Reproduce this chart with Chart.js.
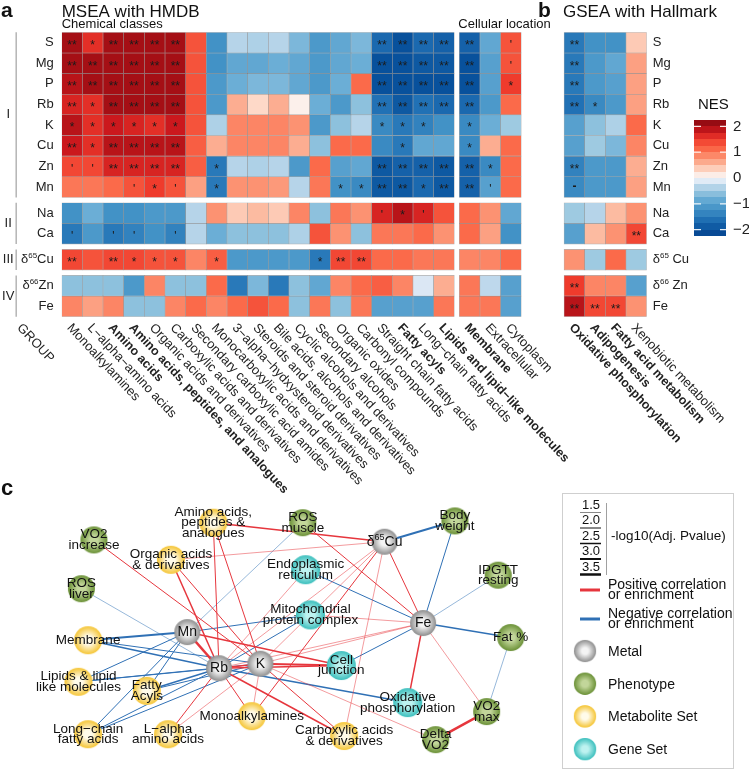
<!DOCTYPE html>
<html>
<head>
<meta charset="utf-8">
<script src="https://cdn.jsdelivr.net/npm/chart.js@4.4.1/dist/chart.umd.min.js"></script>
<style>
  html, body { margin: 0; padding: 0; background: #fff; }
  #fig { position: relative; width: 749px; height: 769px; overflow: hidden; }
  canvas { position: absolute; }
</style>
</head>
<body>
<div id="fig">
  <canvas id="heat" width="749" height="500" style="left:0;top:0"></canvas>
  <canvas id="nesBar" width="55" height="148" style="left:694px;top:104px"></canvas>
  <canvas id="net" width="749" height="291" style="left:0;top:478px"></canvas>
</div>
<script>
const FONT = '"Liberation Sans", Arial, Helvetica, sans-serif';

// ---------- panel a / b : heatmap data ----------
const rowLabels = ['S', 'Mg', 'P', 'Rb', 'K', 'Cu', 'Zn', 'Mn', 'Na', 'Ca', 'δ65Cu', 'δ66Zn', 'Fe'];
const rowGroups = ['I', 'I', 'I', 'I', 'I', 'I', 'I', 'I', 'II', 'II', 'III', 'IV', 'IV'];

const hmdbCols = ['Monoalkylamines', 'L−alpha−amino acids', 'Amino acids', 'Amino acids, peptides, and analogues',
  'Organic acids and derivatives', 'Carboxylic acids and derivatives', 'Secondary carboxylic acid amides',
  'Monocarboxylic acids and derivatives', '3−alpha−hydxysteroid derivatives', 'Steroids and steroid derivatives',
  'Bile acids, alcohols and derivatives', 'Cyclic alcohols and derivatives', 'Secondary alcohols', 'Organic oxides',
  'Carbonyl compounds', 'Straight chain fatty acids', 'Fatty acyls', 'Long−chain fatty acids', 'Lipids and lipid−like molecules'];
const locationCols = ['Membrane', 'Extracellular', 'Cytoplasm'];
const hallmarkCols = ['Oxidative phosphorylation', 'Adipogenesis', 'Fatty acid metabolism', 'Xenobiotic metabolism'];
const boldCols = ['Amino acids', 'Amino acids, peptides, and analogues', 'Fatty acyls', 'Lipids and lipid−like molecules',
  'Membrane', 'Oxidative phosphorylation', 'Adipogenesis', 'Fatty acid metabolism'];

const hmdbNES = [
  [2.0, 1.6, 2.0, 2.0, 2.0, 2.0, 1.3, -1.2, -0.35, -0.4, -0.35, -0.7, -1.1, -0.9, -0.7, -1.7, -2.0, -1.7, -1.8],
  [2.0, 2.0, 2.0, 2.0, 2.0, 2.0, 1.3, -1.2, -0.9, -0.9, -0.8, -0.9, -1.1, -0.9, -0.8, -2.0, -2.0, -1.9, -1.9],
  [1.9, 2.0, 2.0, 2.0, 2.0, 2.0, 1.3, -1.1, -0.8, -0.7, -0.7, -0.9, -1.1, -0.8, 1.1, -2.0, -2.0, -2.0, -2.0],
  [1.7, 1.6, 2.0, 2.0, 2.0, 2.0, 1.3, -1.1, 0.6, 0.3, 0.6, 0.1, -0.8, -1.1, -0.6, -1.6, -1.9, -1.6, -1.7],
  [1.9, 1.6, 1.8, 1.7, 1.6, 1.8, 1.3, -0.4, 0.9, 0.9, 0.9, 0.8, -1.1, -0.6, -0.35, -1.3, -1.5, -1.4, -1.2],
  [1.8, 1.6, 1.9, 1.9, 1.9, 1.9, 1.2, 0.6, 0.9, 0.9, 0.9, 0.6, -0.6, 1.1, 1.1, -1.3, -1.5, -0.9, -0.9],
  [1.4, 1.4, 1.7, 1.7, 1.7, 1.7, 1.2, -1.5, -0.35, -0.4, -0.35, -1.1, 1.1, -1.0, -0.9, -1.9, -1.8, -1.8, -1.9],
  [1.0, 1.0, 1.1, 1.3, 1.5, 1.3, 0.7, -1.5, 0.8, 0.8, 0.75, -0.35, 1.0, -1.2, -1.3, -1.9, -1.9, -1.7, -1.9],
  [-1.2, -0.8, -1.2, -1.2, -1.1, -1.1, -0.35, 0.8, 0.4, 0.5, 0.4, 0.9, -0.6, 1.0, 0.8, 1.7, 1.9, 1.7, 1.3],
  [-1.5, -1.1, -1.5, -1.4, -1.2, -1.4, -0.35, -0.8, -0.6, -0.6, -0.6, -0.4, 1.3, 0.8, -0.6, 1.0, 1.0, 1.1, 0.8],
  [1.4, 1.3, 1.4, 1.4, 1.3, 1.3, 0.9, 1.2, -1.1, -1.1, -1.1, -1.1, -1.5, 1.4, 1.4, 1.1, 1.1, 1.0, 1.0],
  [-0.6, -0.6, -0.6, -1.1, 0.9, -0.6, -0.6, 1.1, -1.5, -0.7, -1.5, -0.6, -0.9, 0.9, 1.1, 1.2, 0.9, -0.15, 0.6],
  [0.9, 0.7, 0.9, -0.6, -0.6, 0.9, 1.1, 0.9, 1.1, 1.3, 1.1, -0.6, 1.0, -0.6, 1.0, -1.0, -1.0, -1.0, 1.0]
];
const locationNES = [
  [-1.8, -0.9, 1.3], [-2.0, -1.0, 1.3], [-2.0, -1.0, 1.5], [-1.7, -1.1, 1.1], [-1.3, -0.8, -0.5],
  [-1.3, 0.6, 1.1], [-1.8, -1.3, 1.1], [-1.8, -1.0, 1.1], [1.1, 0.8, -0.9], [1.1, 0.7, -1.2],
  [0.9, 0.9, 1.1], [1.0, -0.3, -1.0], [1.0, 1.0, -1.0]
];
const hallmarkNES = [
  [-1.5, -1.2, -1.2, 0.4], [-1.5, -1.1, -0.9, 0.7], [-1.5, -1.1, -1.0, 0.7], [-1.6, -1.3, -1.1, 0.7],
  [-1.0, -0.6, -0.4, 1.1], [-1.0, -0.5, -0.7, 0.9], [-1.4, -1.1, -1.1, 0.6], [-1.3, -1.1, -1.1, 0.7],
  [-0.5, -0.35, 0.5, 0.8], [-1.0, 0.5, 0.8, 1.4], [0.8, -0.5, 1.1, -0.5], [1.5, 0.9, 0.9, -1.0],
  [1.9, 1.4, 1.4, 0.8]
];

// significance marks, '_' = none
const hmdbSig = [
  "** * ** ** ** ** _ _ _ _ _ _ _ _ _ ** ** ** **",
  "** ** ** ** ** ** _ _ _ _ _ _ _ _ _ ** ** ** **",
  "** ** ** ** ** ** _ _ _ _ _ _ _ _ _ ** ** ** **",
  "** * ** ** ** ** _ _ _ _ _ _ _ _ _ ** ** ** **",
  "* * * * * * _ _ _ _ _ _ _ _ _ * * * _",
  "** * ** ** ** ** _ _ _ _ _ _ _ _ _ _ * _ _",
  "' ' ** ** ** ** _ * _ _ _ _ _ _ _ ** ** ** **",
  "_ _ _ ' * ' _ * _ _ _ _ _ * * ** ** * **",
  "_ _ _ _ _ _ _ _ _ _ _ _ _ _ _ ' * ' _",
  "' _ ' ' _ ' _ _ _ _ _ _ _ _ _ _ _ _ _",
  "** _ ** * * * _ * _ _ _ _ * ** ** _ _ _ _",
  "_ _ _ _ _ _ _ _ _ _ _ _ _ _ _ _ _ _ _",
  "_ _ _ _ _ _ _ _ _ _ _ _ _ _ _ _ _ _ _"
];
const locationSig = ["** _ '", "** _ '", "** _ *", "** _ _", "* _ _", "* _ _", "** * _", "** ' _",
  "_ _ _", "_ _ _", "_ _ _", "_ _ _", "_ _ _"];
const hallmarkSig = ["** _ _ _", "** _ _ _", "** _ _ _", "** * _ _", "_ _ _ _", "_ _ _ _", "** _ _ _",
  "- _ _ _", "_ _ _ _", "_ _ _ **", "_ _ _ _", "** _ _ _", "** ** ** _"];

const nesTicks = [2, 1, 0, -1, -2];

// ---------- panel c : network data ----------
// [id, label, layout x, layout y]
const metalNodes = [['Mn', 'Mn', 18.0, 15.5], ['Rb', 'Rb', 21.3, 19.5], ['K', 'K', 25.6, 19.0],
  ['Cu65', 'δ65Cu', 38.5, 5.5], ['Fe', 'Fe', 42.5, 14.5]];
const phenotypeNodes = [['VO2inc', 'VO2\nincrease', 8.3, 5.3], ['ROSm', 'ROS\nmuscle', 30.0, 3.4],
  ['ROSl', 'ROS\nliver', 7.0, 10.7], ['BW', 'Body\nweight', 45.8, 3.2], ['IPGTT', 'IPGTT\nresting', 50.3, 9.2],
  ['Fat', 'Fat %', 51.6, 16.1], ['VO2max', 'VO2\nmax', 49.1, 24.3], ['dVO2', 'Delta\nVO2', 43.8, 27.4]];
const metaboliteNodes = [['AAp', 'Amino acids,\npeptides &\nanalogues', 20.7, 3.4],
  ['Org', 'Organic acids\n& derivatives', 16.3, 7.5], ['Mem', 'Membrane', 7.7, 16.4],
  ['Lip', 'Lipids & lipid\nlike molecules', 6.7, 21.0], ['FA', 'Fatty\nAcyls', 13.8, 22.0],
  ['Mono', 'Monoalkylamines', 24.7, 24.8], ['LCFA', 'Long−chain\nfatty acids', 7.7, 26.8],
  ['LAA', 'L−alpha\namino acids', 16.0, 26.8], ['Carb', 'Carboxylic acids\n& derivatives', 34.3, 27.0]];
const geneSetNodes = [['ER', 'Endoplasmic\nreticulum', 30.3, 8.6], ['Mito', 'Mitochondrial\nprotein complex', 30.8, 13.6],
  ['CJ', 'Cell\njunction', 34.0, 19.2], ['OxPh', 'Oxidative\nphosphorylation', 40.9, 23.3]];

// [from, to, -log10(adj p)]
const positiveEdges = [
  ['AAp', 'Cu65', 2.5], ['AAp', 'Rb', 2.0], ['AAp', 'K', 2.0], ['ROSm', 'Fe', 2.0], ['VO2inc', 'K', 2.0],
  ['Org', 'Cu65', 1.5], ['Org', 'Rb', 2.5], ['Org', 'K', 2.0], ['ER', 'Rb', 1.5], ['Mito', 'Fe', 1.5],
  ['Mn', 'Rb', 3.5], ['Mn', 'CJ', 2.5], ['Rb', 'LAA', 2.0], ['Rb', 'Mono', 2.0], ['Rb', 'Carb', 2.5],
  ['Rb', 'CJ', 2.5], ['Rb', 'K', 2.5], ['Rb', 'Fe', 1.5], ['K', 'Mono', 1.5], ['K', 'Carb', 2.0],
  ['K', 'CJ', 3.0], ['K', 'Fe', 1.5], ['K', 'LAA', 1.5], ['K', 'dVO2', 1.5], ['Cu65', 'Mono', 2.0],
  ['Cu65', 'Carb', 1.5], ['Cu65', 'Fe', 2.0], ['Cu65', 'Rb', 1.5], ['Cu65', 'K', 1.5],
  ['Fe', 'OxPh', 2.5], ['Fe', 'VO2max', 1.5], ['VO2max', 'dVO2', 3.5]
];
const negativeEdges = [
  ['ROSm', 'Mn', 1.5], ['ER', 'Fe', 2.0], ['ROSl', 'Rb', 1.5], ['Mito', 'Mn', 2.0], ['Mito', 'Rb', 2.0],
  ['Mem', 'Mn', 3.0], ['Mem', 'Rb', 2.5], ['Mem', 'K', 2.0], ['Lip', 'Mn', 2.0], ['Lip', 'Rb', 2.0],
  ['Lip', 'K', 2.0], ['FA', 'Mn', 2.0], ['FA', 'Rb', 2.5], ['FA', 'K', 2.0], ['LCFA', 'Mn', 2.0],
  ['LCFA', 'Rb', 2.0], ['LCFA', 'K', 2.0], ['Rb', 'OxPh', 2.5], ['Cu65', 'BW', 3.0], ['BW', 'Fe', 2.0],
  ['IPGTT', 'Fe', 1.5], ['Fe', 'Fat', 2.5], ['Fe', 'CJ', 2.0], ['Fat', 'VO2max', 1.5]
];
const pvalTicks = [1.5, 2.0, 2.5, 3.0, 3.5];

// ---------- colours ----------
const nesStops = [
  [-2.3, [8, 64, 140]], [-2.0, [8, 81, 156]], [-1.6, [33, 113, 181]], [-1.2, [66, 146, 198]],
  [-0.8, [107, 174, 214]], [-0.5, [158, 202, 225]], [-0.25, [198, 219, 239]], [0, [250, 250, 252]],
  [0.25, [254, 224, 210]], [0.5, [252, 187, 161]], [0.8, [252, 146, 114]], [1.1, [251, 106, 74]],
  [1.5, [239, 59, 44]], [1.8, [203, 24, 29]], [2.0, [165, 15, 21]], [2.3, [130, 8, 16]]
];
function nesColor(v) {
  if (v <= nesStops[0][0]) return 'rgb(' + nesStops[0][1].join(',') + ')';
  for (let i = 1; i < nesStops.length; i++) {
    if (v <= nesStops[i][0]) {
      const [a, ca] = nesStops[i - 1], [b, cb] = nesStops[i];
      const t = (v - a) / (b - a);
      return 'rgb(' + ca.map((c, k) => Math.round(c + (cb[k] - c) * t)).join(',') + ')';
    }
  }
  return 'rgb(' + nesStops[nesStops.length - 1][1].join(',') + ')';
}

// text helper: handles δ65Cu style superscripts
function drawRich(ctx, text, x, y, size, align, weight) {
  const base = (weight || '') + ' ' + size + 'px ' + FONT;
  const m = /^δ(\d+)(\s?)(.*)$/.exec(text);
  if (!m) { ctx.font = base; ctx.textAlign = align; ctx.fillText(text, x, y); return; }
  const sup = Math.round(size * 0.62) + 'px ' + FONT;
  ctx.font = base;
  const w1 = ctx.measureText('δ').width, w3 = ctx.measureText(m[3]).width;
  ctx.font = sup;
  const w2 = ctx.measureText(m[1]).width;
  const gap = m[2] ? size * 0.28 : 0;
  const total = w1 + w2 + gap + w3;
  const sx = align === 'right' ? x - total : align === 'center' ? x - total / 2 : x;
  ctx.textAlign = 'left';
  ctx.font = base; ctx.fillText('δ', sx, y);
  ctx.font = sup; ctx.fillText(m[1], sx + w1, y - size * 0.33);
  ctx.font = base; ctx.fillText(m[3], sx + w1 + w2 + gap, y);
}

// ---------- heatmap layout ----------
const ROW_GAP = 0.26, LOC_GAP = 0.24, GSEA_GAP = 2.07;
const rowTops = [];
let yCursor = 0;
rowLabels.forEach((r, i) => {
  if (i > 0 && rowGroups[i] !== rowGroups[i - 1]) yCursor += ROW_GAP;
  rowTops.push(yCursor);
  yCursor += 1;
});
const yMax = yCursor;

const columns = [];
hmdbCols.forEach((c, i) => columns.push({ label: c, pos: i, nes: hmdbNES, sig: hmdbSig, idx: i }));
let xStart = hmdbCols.length + LOC_GAP;
locationCols.forEach((c, i) => columns.push({ label: c, pos: xStart + i, nes: locationNES, sig: locationSig, idx: i }));
xStart += locationCols.length + GSEA_GAP;
hallmarkCols.forEach((c, i) => columns.push({ label: c, pos: xStart + i, nes: hallmarkNES, sig: hallmarkSig, idx: i }));
const xMax = xStart + hallmarkCols.length - 0.5;

const heatDatasets = rowLabels.map((r, ri) => ({
  label: r,
  data: columns.map(col => {
    const s = col.sig[ri].split(' ')[col.idx];
    return { x: col.pos, y: [rowTops[ri], rowTops[ri] + 1], nes: col.nes[ri][col.idx], sig: s === '_' ? '' : s };
  }),
  backgroundColor: ctx => ctx.raw ? nesColor(ctx.raw.nes) : '#ccc',
  borderColor: 'rgba(85,85,85,0.45)',
  borderWidth: 0.6,
  borderSkipped: false,
  grouped: false,
  barPercentage: 1,
  categoryPercentage: 1
}));

const heatLabels = {
  id: 'heatLabels',
  afterDatasetsDraw(chart) {
    const { ctx, scales: { x, y } } = chart;
    ctx.save();
    ctx.fillStyle = '#1b1b1b';
    ctx.textBaseline = 'middle';
    // significance marks
    chart.data.datasets.forEach((ds, di) => {
      chart.getDatasetMeta(di).data.forEach((el, i) => {
        const s = ds.data[i].sig;
        if (!s) return;
        const cy = (el.y + el.base) / 2;
        ctx.textAlign = 'center';
        if (s === '-') { ctx.font = 'bold 12px ' + FONT; ctx.fillText('-', el.x, cy); }
        else { ctx.font = '12px ' + FONT; ctx.fillText(s, el.x, cy + 3); }
      });
    });
    ctx.fillStyle = '#222';
    // row labels
    const leftEdge = x.getPixelForValue(-0.5);
    const rightEdge = x.getPixelForValue(xMax);
    rowLabels.forEach((r, ri) => {
      const cy = y.getPixelForValue(rowTops[ri] + 0.5);
      drawRich(ctx, r, leftEdge - 8, cy, 13, 'right');
      drawRich(ctx, r.replace(/^δ(\d+)/, 'δ$1 '), rightEdge + 6, cy, 13, 'left');
    });
    // group bars and labels
    const groupX = leftEdge - 45.5;
    [...new Set(rowGroups)].forEach(g => {
      const first = rowGroups.indexOf(g), last = rowGroups.lastIndexOf(g);
      const t = y.getPixelForValue(rowTops[first]), b = y.getPixelForValue(rowTops[last] + 1);
      ctx.strokeStyle = '#b5b5b5'; ctx.lineWidth = 1.5;
      ctx.beginPath(); ctx.moveTo(groupX, t); ctx.lineTo(groupX, b); ctx.stroke();
      ctx.font = '13px ' + FONT; ctx.textAlign = 'center';
      ctx.fillText(g, groupX - 8, (t + b) / 2);
    });
    // rotated column labels
    const bottom = y.getPixelForValue(yMax);
    const ang = 47 * Math.PI / 180;
    const rotText = (text, px, bold) => {
      ctx.save();
      ctx.translate(px, bottom + 9);
      ctx.rotate(ang);
      ctx.textAlign = 'left';
      ctx.font = (bold ? 'bold 12.5px ' : '13px ') + FONT;
      ctx.fillText(text, 0, 0);
      ctx.restore();
    };
    rotText('GROUP', groupX + 3, false);
    columns.forEach(col => rotText(col.label, x.getPixelForValue(col.pos) - 3, boldCols.includes(col.label)));
    // titles
    ctx.textBaseline = 'alphabetic';
    ctx.textAlign = 'left';
    ctx.fillStyle = '#111';
    const gseaLeft = x.getPixelForValue(xStart - 0.5);
    ctx.font = 'bold 21px ' + FONT; ctx.fillText('a', 1, 17);
    ctx.fillText('b', gseaLeft - 26, 17);
    ctx.font = '17px ' + FONT;
    ctx.fillText('MSEA with HMDB', leftEdge, 17);
    ctx.fillText('GSEA with Hallmark', gseaLeft - 1, 17);
    ctx.font = '13px ' + FONT;
    ctx.fillText('Chemical classes', leftEdge, 28);
    ctx.fillText('Cellular location', x.getPixelForValue(hmdbCols.length + LOC_GAP - 0.5) - 1, 28);
    ctx.font = '15px ' + FONT;
    ctx.fillText('NES', 698, 109);
    ctx.restore();
  }
};

new Chart(document.getElementById('heat'), {
  type: 'bar',
  data: { datasets: heatDatasets },
  options: {
    responsive: false,
    animation: false,
    layout: { padding: { left: 61.7, top: 32.3, right: 102.3, bottom: 183.3 } },
    plugins: { legend: { display: false }, tooltip: { enabled: false } },
    scales: {
      x: {
        type: 'linear', min: -0.5, max: xMax, offset: false, display: false,
        afterBuildTicks: ax => { ax.ticks = columns.map(c => ({ value: c.pos })); }
      },
      y: { type: 'linear', min: 0, max: yMax, reverse: true, display: false }
    }
  },
  plugins: [heatLabels]
});

// ---------- NES colour bar ----------
function nesGradient(chart) {
  const { ctx, chartArea, scales } = chart;
  if (!chartArea) return null;
  const y = scales.y;
  const lo = y.min, hi = y.max;
  const g = ctx.createLinearGradient(0, y.getPixelForValue(lo), 0, y.getPixelForValue(hi));
  const step = 0.25, n = Math.round((hi - lo) / step);
  for (let b = 0; b < n; b++) {
    const v0 = lo + b * step, v1 = v0 + step;
    const c = nesColor((v0 + v1) / 2);
    g.addColorStop((v0 - lo) / (hi - lo), c);
    g.addColorStop(Math.min(1, (v1 - lo) / (hi - lo)), c);
  }
  return g;
}
const nesTickMarks = {
  id: 'nesTickMarks',
  afterDatasetsDraw(chart) {
    const { ctx, chartArea: a, scales: { y } } = chart;
    ctx.save();
    ctx.strokeStyle = 'rgba(255,255,255,0.9)';
    ctx.lineWidth = 1.3;
    nesTicks.filter(v => v !== 0).forEach(v => {
      const py = y.getPixelForValue(v);
      ctx.beginPath();
      ctx.moveTo(a.left, py); ctx.lineTo(a.left + 7, py);
      ctx.moveTo(a.right - 6, py); ctx.lineTo(a.right, py);
      ctx.stroke();
    });
    ctx.restore();
  }
};
new Chart(document.getElementById('nesBar'), {
  type: 'bar',
  data: { labels: ['NES'], datasets: [{ data: [[-2.25, 2.25]], backgroundColor: ctx => nesGradient(ctx.chart), borderWidth: 0, barPercentage: 1, categoryPercentage: 1 }] },
  options: {
    responsive: false,
    animation: false,
    layout: { padding: { top: 9, bottom: 8, left: 0, right: 0 } },
    plugins: { legend: { display: false }, tooltip: { enabled: false } },
    scales: {
      x: { display: false },
      y: {
        position: 'right', min: -2.25, max: 2.25,
        afterBuildTicks: ax => { ax.ticks = nesTicks.map(v => ({ value: v })); },
        afterFit: ax => { ax.width = 23; },
        grid: { display: false, drawTicks: false },
        border: { display: false },
        ticks: { padding: 7, color: '#222', font: { size: 15, family: FONT }, callback: v => v < 0 ? '\u2212' + (-v) : String(v) }
      }
    }
  },
  plugins: [nesTickMarks]
});

// ---------- network ----------
function makeBall(r, inner, outer) {
  const c = document.createElement('canvas');
  c.width = c.height = Math.ceil(2 * r + 2);
  const g = c.getContext('2d');
  const m = c.width / 2;
  const grad = g.createRadialGradient(m, m, 0, m, m, r);
  grad.addColorStop(0, inner);
  grad.addColorStop(0.3, inner);
  grad.addColorStop(1, outer);
  g.fillStyle = grad;
  g.beginPath(); g.arc(m, m, r, 0, Math.PI * 2); g.fill();
  return c;
}
const nodeTypes = [
  { name: 'Metal', nodes: metalNodes, ball: makeBall(13, '#f4f4f4', '#8e8e8e'), font: 14 },
  { name: 'Phenotype', nodes: phenotypeNodes, ball: makeBall(13.5, '#c2d69a', '#6b9137'), font: 13.5 },
  { name: 'Metabolite Set', nodes: metaboliteNodes, ball: makeBall(14, '#fffbea', '#f5c535'), font: 13.5 },
  { name: 'Gene Set', nodes: geneSetNodes, ball: makeBall(14.5, '#bdf2f0', '#3bbfbd'), font: 13.5 }
];
const nodeIndex = {};
nodeTypes.forEach(t => t.nodes.forEach(n => { nodeIndex[n[0]] = { x: n[2], y: n[3] }; }));
const edgeWidth = p => 0.5 + (p - 1.5) * 1.0;
const POS = '#e6363d', NEG = '#2f70b5';

const netDatasets = nodeTypes.map(t => ({
  label: t.name,
  data: t.nodes.map(n => ({ x: n[2], y: n[3] })),
  pointStyle: t.ball,
  pointRadius: 13,
  showLine: false,
  order: 0
}));
[[positiveEdges, POS], [negativeEdges, NEG]].forEach(([list, color]) => {
  list.forEach(e => netDatasets.push({
    data: [nodeIndex[e[0]], nodeIndex[e[1]]],
    showLine: true,
    borderColor: color,
    borderWidth: edgeWidth(e[2]),
    pointRadius: 0,
    order: 1
  }));
});

const netLabels = {
  id: 'netLabels',
  afterDatasetsDraw(chart) {
    const { ctx } = chart;
    ctx.save();
    ctx.fillStyle = '#111';
    ctx.textBaseline = 'middle';
    nodeTypes.forEach((t, ti) => {
      chart.getDatasetMeta(ti).data.forEach((el, i) => {
        const lines = t.nodes[i][1].split('\n');
        const lh = 10.5;
        lines.forEach((ln, k) => drawRich(ctx, ln, el.x, el.y + (k - (lines.length - 1) / 2) * lh, t.font, 'center'));
      });
    });
    // panel letter
    ctx.textBaseline = 'alphabetic'; ctx.textAlign = 'left';
    ctx.font = 'bold 22px ' + FONT;
    ctx.fillText('c', 1, 17);
    // legend box
    ctx.strokeStyle = '#cfcfcf'; ctx.lineWidth = 1;
    ctx.strokeRect(562.5, 15.5, 171, 275);
    ctx.textBaseline = 'middle';
    ctx.fillStyle = '#111';
    pvalTicks.forEach((p, i) => {
      const cy = 27 + i * 15.5;
      ctx.font = '13px ' + FONT; ctx.textAlign = 'right';
      ctx.fillText(p.toFixed(1), 600, cy);
      ctx.strokeStyle = '#111'; ctx.lineWidth = edgeWidth(p);
      ctx.beginPath(); ctx.moveTo(580, cy + 7.5); ctx.lineTo(601, cy + 7.5); ctx.stroke();
    });
    ctx.strokeStyle = '#888'; ctx.lineWidth = 0.8;
    ctx.beginPath(); ctx.moveTo(606.5, 25); ctx.lineTo(606.5, 97); ctx.stroke();
    ctx.textAlign = 'left'; ctx.font = '13.5px ' + FONT;
    ctx.fillText('-log10(Adj. Pvalue)', 611, 58);
    [[POS, 'Positive correlation', 112], [NEG, 'Negative correlation', 141]].forEach(([c, txt, cy]) => {
      ctx.strokeStyle = c; ctx.lineWidth = 3;
      ctx.beginPath(); ctx.moveTo(580, cy); ctx.lineTo(600, cy); ctx.stroke();
      ctx.font = '14px ' + FONT;
      ctx.fillText(txt, 608, cy - 4.5);
      ctx.fillText('or enrichment', 608, cy + 5.5);
    });
    nodeTypes.forEach((t, i) => {
      const cy = 173 + i * 32.7;
      ctx.drawImage(t.ball, 585 - 12, cy - 12, 24, 24);
      ctx.font = '14px ' + FONT;
      ctx.fillText(t.name, 608, cy + 1);
    });
    ctx.restore();
  }
};

new Chart(document.getElementById('net'), {
  type: 'scatter',
  data: { datasets: netDatasets },
  options: {
    responsive: false,
    animation: false,
    layout: { padding: 0 },
    plugins: { legend: { display: false }, tooltip: { enabled: false } },
    scales: {
      x: { type: 'linear', min: 0, max: 74.9, display: false },
      y: { type: 'linear', min: 0, max: 29.1, reverse: true, display: false }
    }
  },
  plugins: [netLabels]
});
</script>
</body>
</html>
